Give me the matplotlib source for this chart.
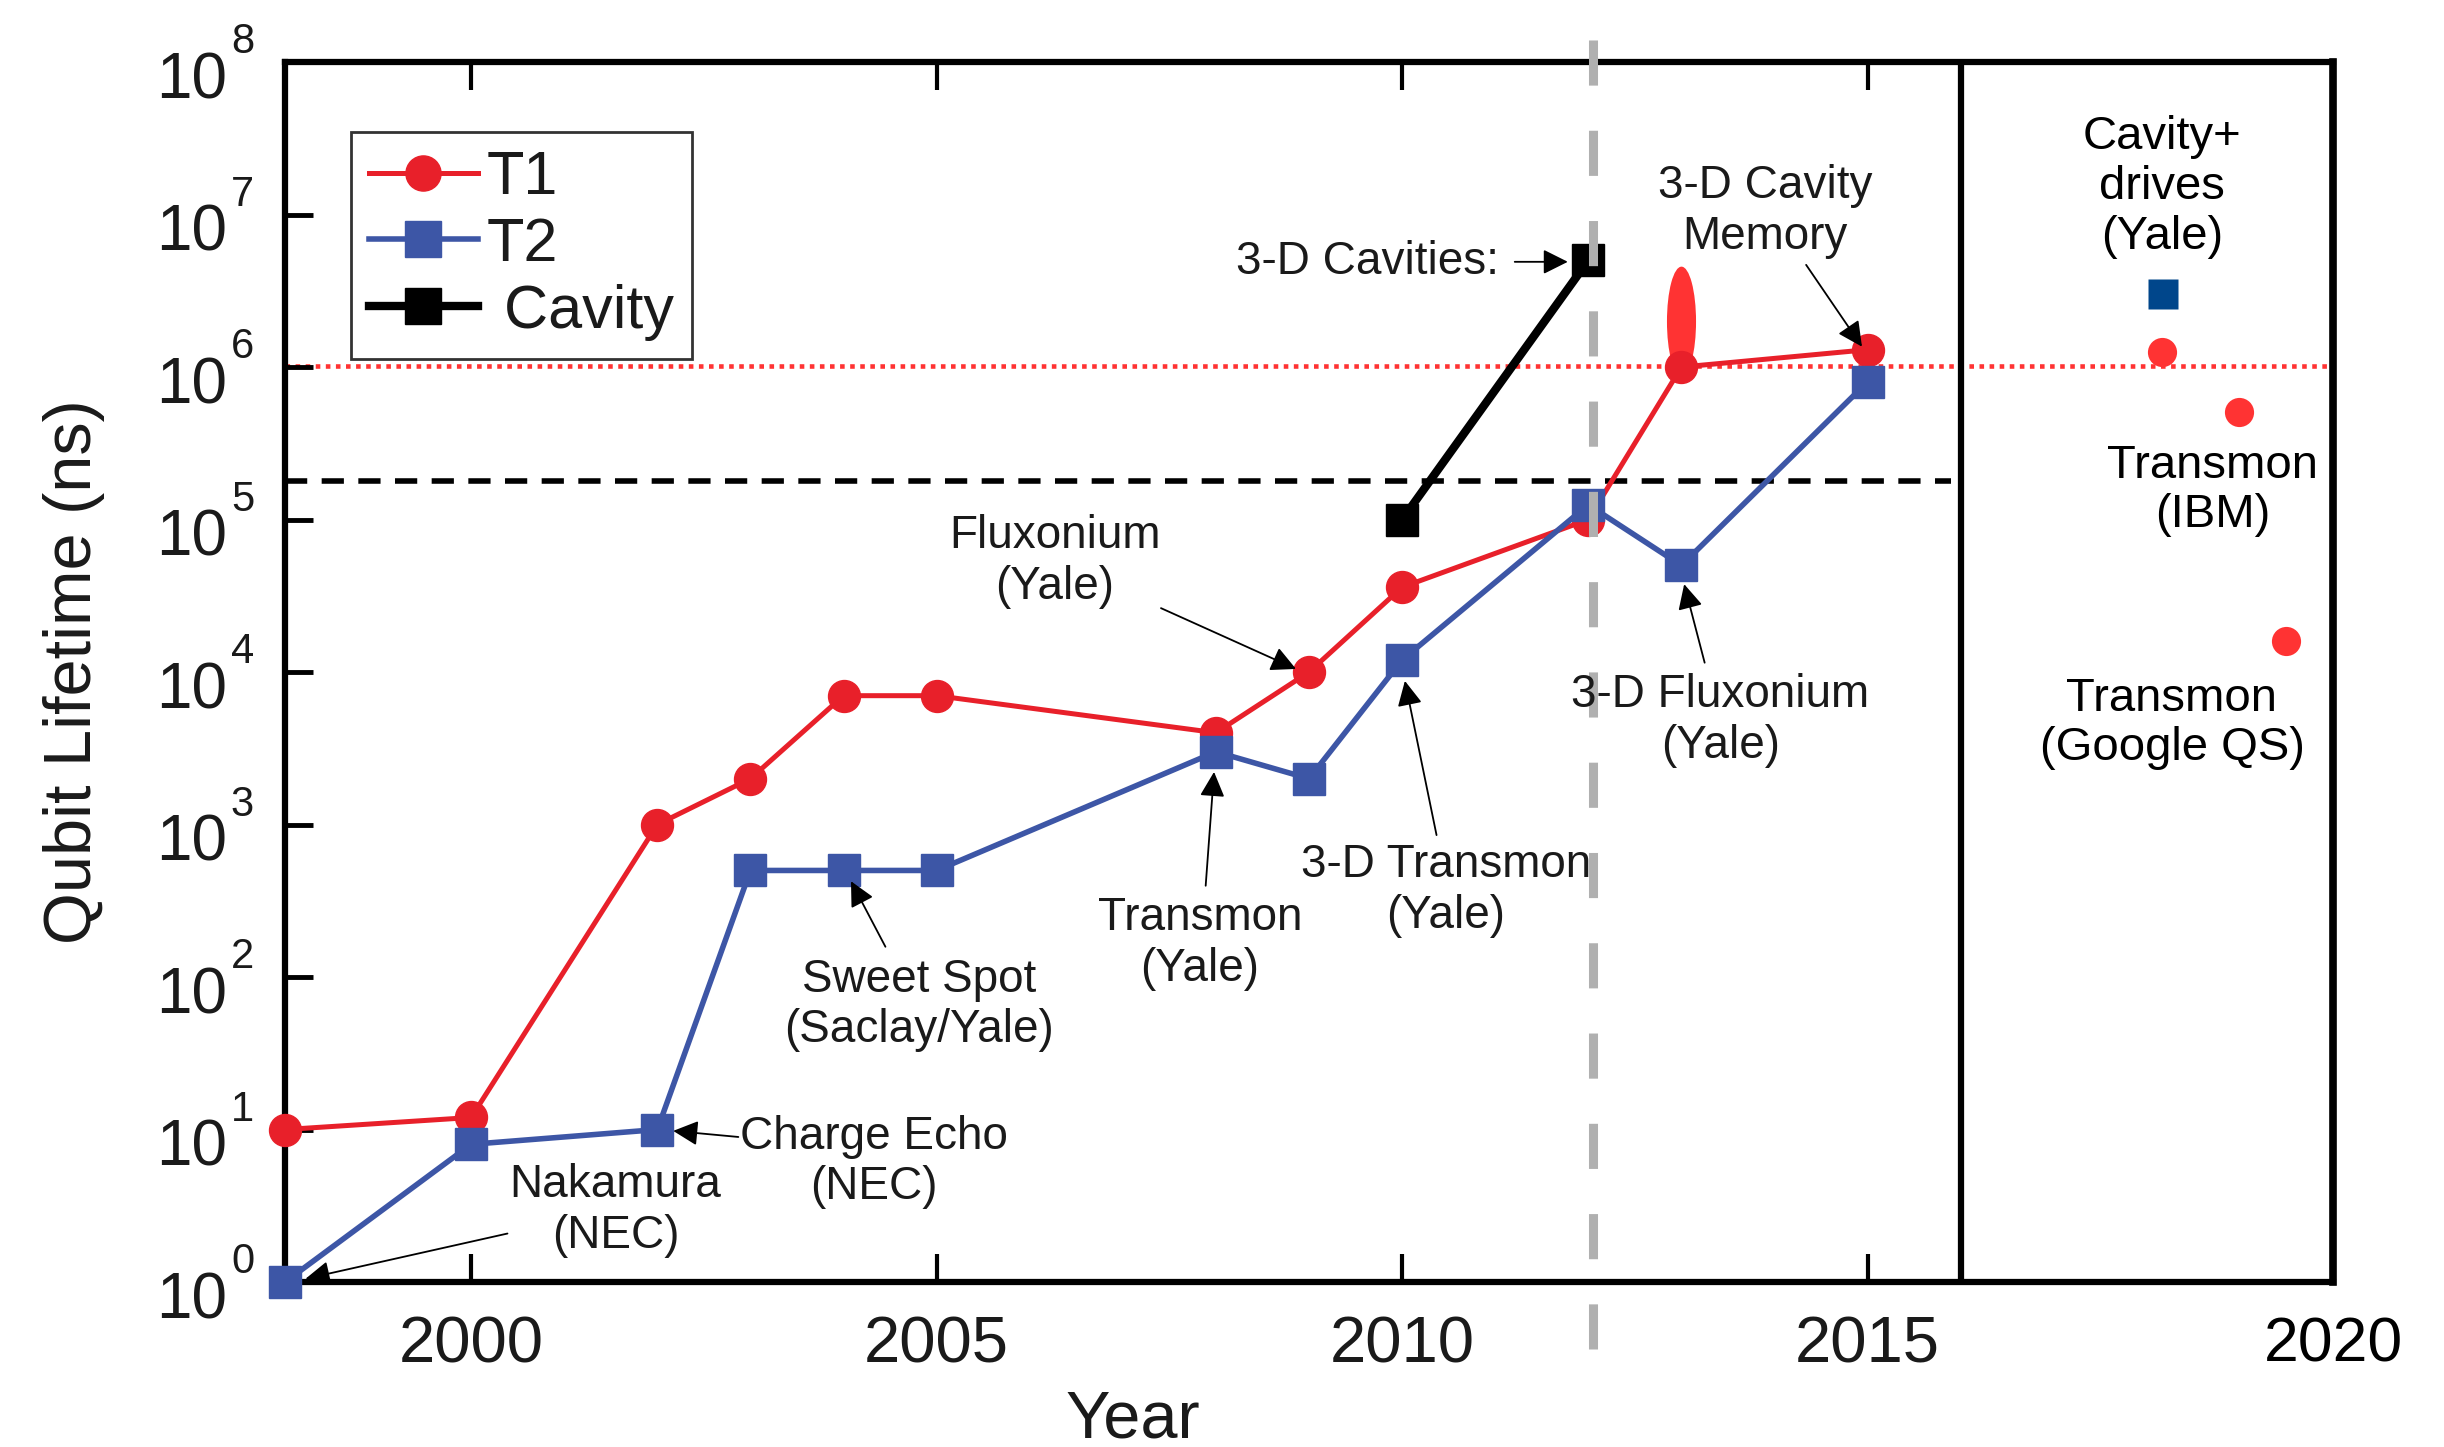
import matplotlib
matplotlib.use("Agg")
import matplotlib.pyplot as plt
from matplotlib.path import Path
from matplotlib.transforms import Affine2D, blended_transform_factory, offset_copy
from matplotlib.ticker import NullLocator, NullFormatter

# ---- data: qubit lifetimes in ns ----
t1_years = [1998, 2000, 2002, 2003, 2004, 2005, 2008, 2009, 2010, 2012, 2013, 2015]
t1_values = [10, 12, 1000, 2000, 7000, 7000, 4000, 1e4, 3.6e4, 1e5, 1e6, 1.3e6]
t2_years = [1998, 2000, 2002, 2003, 2004, 2005, 2008, 2009, 2010, 2012, 2013, 2015]
t2_values = [1, 8, 10, 500, 500, 500, 3000, 2000, 1.2e4, 1.25e5, 5e4, 8e5]
cavity_years = [2010, 2012]
cavity_values = [1e5, 5e6]

# spread of the 2013 T1 result
t1_spread_year = 2013
t1_spread_value = 2.0e6

# later results
recent_t1_years = [2018.16, 2018.99, 2019.50]
recent_t1_values = [1.25e6, 5.1e5, 1.6e4]
recent_cav_years = [2018.17]
recent_cav_values = [3.0e6]

# reference levels
t1_level = 1.02e6
cavity_level = 1.8e5
marker_year = 2012.05
split_year = 2016

x_ticks = [2000, 2005, 2010, 2015, 2020]
x_labels = ["2000", "2005", "2010", "2015", "2020"]
y_exponents = list(range(9))

plt.rcParams["font.family"] = ["Liberation Sans", "DejaVu Sans"]

INK = "#1a1a1a"
RED = "#e8202a"
BLUE = "#3d56a6"
BRIGHT_RED = "#ff3333"
NAVY = "#00468b"

fig = plt.figure(figsize=(24.44, 14.47), dpi=100)
ax = fig.add_axes([0.1166, 0.114, 0.838, 0.8431])
ax.set_yscale("log")
ax.set_xlim(1998, 2020)
ax.set_ylim(1, 1e8)

# reference lines
ax.axhline(t1_level, color=BRIGHT_RED, lw=3.3, ls=(0, (1.0, 1.2)), zorder=1)
ax.plot([1998, 2015.9], [cavity_level] * 2, color="k", lw=4, ls=(0, (4, 2.6)), zorder=1)
ax.axvline(split_year, color="k", lw=4.5, zorder=2)

# series
l1, = ax.plot(t1_years, t1_values, color=RED, lw=3.6, marker="o", ms=23,
              label="T1", zorder=4, clip_on=False)
l2, = ax.plot(t2_years, t2_values, color=BLUE, lw=4, marker="s", ms=23,
              label="T2", zorder=5, clip_on=False)
l3, = ax.plot(cavity_years, cavity_values, color="k", lw=6, marker="s", ms=23,
              label=" Cavity", zorder=5)

ellipse = Path.unit_circle().transformed(Affine2D().scale(0.265, 1.0))
ax.plot([t1_spread_year], [t1_spread_value], ls="none", marker=ellipse, ms=79,
        color=BRIGHT_RED, mec="none", zorder=3)

ax.plot(recent_t1_years, recent_t1_values, ls="none", marker="o", ms=21,
        color=BRIGHT_RED, mec="none", zorder=5)
ax.plot(recent_cav_years, recent_cav_values, ls="none", marker="s", ms=21,
        color=NAVY, mec="none", zorder=5)

ax.axvline(marker_year, ymin=-0.055, ymax=1.032, color="#b0b0b0", lw=6.5,
           ls=(0, (5, 5)), clip_on=False, zorder=6)

# axes styling
for s in ax.spines.values():
    s.set_linewidth(4.5)
    s.set_color("k")
ax.spines["right"].set_linewidth(5.5)

ax.set_xticks(x_ticks)
ax.set_xticklabels(x_labels)
ax.set_yticks([10.0 ** k for k in y_exponents])
ax.yaxis.set_major_formatter(NullFormatter())
ax.yaxis.set_minor_locator(NullLocator())
ax.xaxis.set_minor_locator(NullLocator())
ax.tick_params(axis="x", direction="in", top=True, bottom=True, length=20,
               width=3, pad=24, labelsize=47, labelcolor=INK)
ax.tick_params(axis="y", direction="in", left=True, right=False, length=20,
               width=3.5)
last = ax.xaxis.get_major_ticks()[-1]
last.tick1line.set_visible(False)
last.tick2line.set_visible(False)
last.label1.set_color("black")
last.label1.set_fontsize(45)

# power-of-ten labels on the y axis
ytrans = blended_transform_factory(ax.transAxes, ax.transData)
base_tr = offset_copy(ytrans, fig=fig, x=0, y=-36, units="dots")
exp_tr = offset_copy(ytrans, fig=fig, x=0, y=9, units="dots")
for k in y_exponents:
    ax.text(-0.0283, 10.0 ** k, "10", transform=base_tr, ha="right",
            va="baseline", fontsize=46, color=INK, clip_on=False)
    ax.text(-0.0264, 10.0 ** k, str(k), transform=exp_tr, ha="left",
            va="baseline", fontsize=30, color=INK, clip_on=False)

ax.set_xlabel("Year", fontsize=48, color=INK)
ax.xaxis.set_label_coords(0.414, -0.088)
ax.set_ylabel("Qubit Lifetime (ns)", fontsize=48, color=INK)
ax.yaxis.set_label_coords(-0.088, 0.5)

leg = ax.legend(handles=[l1, l2, l3], loc="upper left",
                bbox_to_anchor=(0.032, 0.943), fontsize=44, frameon=True,
                fancybox=False, edgecolor="k", handlelength=1.78,
                handletextpad=0.15, labelspacing=0.16, borderpad=0.3,
                borderaxespad=0, markerscale=1.1)
leg.get_frame().set_linewidth(2)
for t in leg.get_texts():
    t.set_color(INK)

# annotations
FS = 33
arrow_kw = dict(arrowstyle="-|>", color="k", lw=1.3, mutation_scale=38,
                shrinkA=0, shrinkB=0)

notes = [
    ("Nakamura\n(NEC)", (2001.55, 2.95), (2000.39, 2.08), (1998.22, 1.05)),
    ("Charge Echo\n(NEC)", (2004.33, 6.13), (2002.87, 8.94), (2002.17, 9.8)),
    ("Sweet Spot\n(Saclay/Yale)", (2004.81, 65.5), (2004.45, 158), (2004.08, 425)),
    ("Transmon\n(Yale)", (2007.83, 166), (2007.89, 397), (2007.98, 2214)),
    ("3-D Transmon\n(Yale)", (2010.47, 370), (2010.37, 853), (2010.03, 8750)),
    ("Fluxonium\n(Yale)", (2006.27, 53200), (2007.41, 26250), (2008.86, 10480)),
    ("3-D Cavity\nMemory", (2013.90, 1.05e7), (2014.34, 4.68e6), (2014.94, 1.36e6)),
    ("3-D Fluxonium\n(Yale)", (2013.42, 4820), (2013.25, 11520), (2013.03, 37700)),
]
for text, pos, tail, head in notes:
    ax.text(pos[0], pos[1], text, fontsize=FS, color=INK, ha="center",
            va="center", linespacing=1.2, zorder=7)
    ax.annotate("", xy=head, xytext=tail, arrowprops=arrow_kw, zorder=7)

ax.text(2011.04, 4.9e6, "3-D Cavities:", fontsize=FS, color=INK, ha="right",
        va="center", zorder=7)
ax.annotate("", xy=(2011.78, 4.9e6), xytext=(2011.21, 4.9e6),
            arrowprops=arrow_kw, zorder=7)

side_notes = [
    ("Cavity+\ndrives\n(Yale)", (2018.16, 1.52e7)),
    ("Transmon\n(IBM)", (2018.71, 1.55e5)),
    ("Transmon\n(Google QS)", (2018.27, 4600)),
]
for text, pos in side_notes:
    ax.text(pos[0], pos[1], text, fontsize=34, color="black", ha="center",
            va="center", linespacing=1.17, zorder=7)

fig.savefig("out.png", dpi=100, facecolor="white")
